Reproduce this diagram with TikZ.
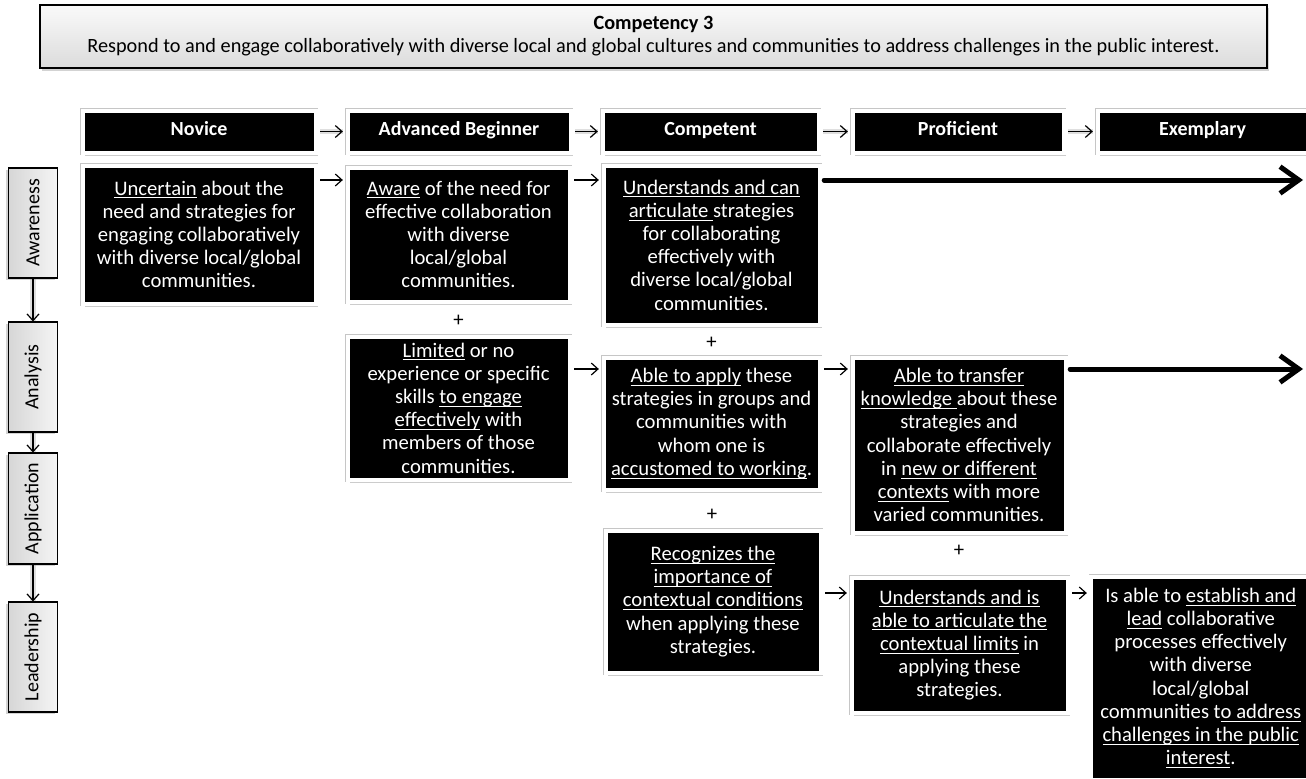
\documentclass[tikz,border=0pt]{standalone}
\usepackage{fontspec}
\setmainfont{Carlito}
\usetikzlibrary{arrows.meta,shadows}

\newlength\ulwd
\newcommand\uln[1]{\settowidth\ulwd{#1}\rlap{\rule[-2.4pt]{\ulwd}{0.7pt}}#1}

\tikzset{
  cell/.style 2 args={fill=black, text=white, draw=white, line width=3pt,
    preaction={draw=gray!45, line width=4pt},
    align=center, inner sep=0pt, minimum width=#1, minimum height=#2,
    drop shadow={opacity=0.4, shadow xshift=2pt, shadow yshift=-2.5pt}},
  head/.style={cell={#1}{31.5pt}, font=\bfseries\fontsize{15}{17}\selectfont,
    text height=1.55ex, text depth=0.35ex},
  stage/.style={draw=black, line width=0.8pt, left color=gray!32, right color=gray!8,
    rotate=90, minimum width=#1, minimum height=36.75pt, inner sep=0pt,
    font=\fontsize{15}{17}\selectfont,
    drop shadow={opacity=0.35, shadow xshift=-2pt, shadow yshift=-1.5pt}},
  flow/.style={-{Straight Barb[length=5pt,width=9pt]}, line width=0.9pt},
  glow/.style={flow, preaction={draw=gray, line width=4pt, opacity=0.25, -}},
  link/.style={flow, shorten <=2pt, shorten >=2pt},
  bigflow/.style={-{Straight Barb[length=14pt,width=20pt]}, line width=3.75pt,
    line cap=round, shorten <=2pt}
}

\begin{document}
\begin{tikzpicture}[x=0.75pt, y=-0.75pt, font=\fontsize{15.5}{17.4}\selectfont]
\useasboundingbox (0,0) rectangle (1306,778);

% Title
\node[draw=black, line width=0.8pt, top color=gray!4, bottom color=gray!28,
  minimum width=920.25pt, minimum height=47.25pt, align=center, inner sep=0pt,
  font=\fontsize{15.2}{17.25}\selectfont,
  drop shadow={opacity=0.35, shadow xshift=1.5pt, shadow yshift=-2pt}]
  (title) at (653.5,36.5)
  {\textbf{Competency 3}\\Respond to and engage collaboratively with diverse local and global cultures and communities to address challenges in the public interest.};

% Levels
\node[head={174.75pt}] (novice) at (199,131.5) {Novice};
\node[head={167.25pt}] (advbeg) at (459,131.5) {Advanced Beginner};
\node[head={162pt}] (competent) at (710.5,131.5) {Competent};
\node[head={158.25pt}] (proficient) at (958,131.5) {Proficient};
\node[head={157.5pt}] (exemplary) at (1202.5,131.5) {Exemplary};
\draw[glow, shorten <=2pt, shorten >=2pt] (novice) -- (advbeg);
\draw[glow, shorten <=2pt, shorten >=2pt] (advbeg) -- (competent);
\draw[glow, shorten <=2pt, shorten >=2pt] (competent) -- (proficient);
\draw[glow, shorten <=2pt, shorten >=2pt] (proficient) -- (exemplary);

% Stages
\node[stage=82.5pt] (awareness) at (33,223) {Awareness};
\node[stage=82.5pt] (analysis) at (33,377) {Analysis};
\node[stage=83.25pt] (application) at (33,508.5) {Application};
\node[stage=82.5pt] (leadership) at (33,657) {Leadership};
\draw[glow] (awareness) -- (analysis);
\draw[glow] (analysis) -- (application);
\draw[glow] (application) -- (leadership);

% Awareness row
\node[cell={174.75pt}{103.5pt}] (awNov) at (199,234.5)
  {\uln{Uncertain} about the\\need and strategies for\\engaging collaboratively\\with diverse local/global\\communities.};
\node[cell={166.5pt}{100.5pt}] (awAdv) at (458.5,234.5)
  {\uln{Aware} of the need for\\effective collaboration\\with diverse\\local/global\\communities.};
\node[cell={162pt}{119.25pt}] (awComp) at (711.5,245)
  {\uln{Understands and can}\\\uln{articulate }strategies\\for collaborating\\effectively with\\diverse local/global\\communities.};

% Analysis row
\node[cell={166.5pt}{107.25pt}] (anAdv) at (458.5,408)
  {\uln{Limited} or no\\experience or specific\\skills \uln{to engage}\\\uln{effectively} with\\members of those\\communities.};
\node[cell={162pt}{99pt}] (anComp) at (711.5,423.5)
  {\uln{Able to apply} these\\strategies in groups and\\communities with\\whom one is\\\uln{accustomed to working}.};
\node[cell={159.75pt}{131.25pt}] (anProf) at (959,445)
  {\uln{Able to transfer}\\\uln{knowledge }about these\\strategies and\\collaborate effectively\\in \uln{new or different}\\\uln{contexts} with more\\varied communities.};

% Application row
\node[cell={161.25pt}{106.5pt}] (apComp) at (713,601.5)
  {\uln{Recognizes the}\\\uln{importance of}\\\uln{contextual conditions}\\when applying these\\strategies.};
\node[cell={162pt}{101.25pt}] (apProf) at (959.5,645)
  {\uln{Understands and is}\\\uln{able to articulate the}\\\uln{contextual limits} in\\applying these\\strategies.};
\node[cell={163.9pt}{152.25pt}] (apExem) at (1200.75,678)
  {Is able to \uln{establish and}\\\uln{lead} collaborative\\processes effectively\\with diverse\\local/global\\communities t\uln{o address}\\\uln{challenges in the public}\\\uln{interest}.};

% Plus signs
\node (plus1) at (458.5,321) {+};
\node (plus2) at (711.5,343) {+};
\node (plus3) at (712,515) {+};
\node (plus4) at (959,551) {+};

% Progress arrows
\coordinate (lane1) at (1303,180);
\coordinate (lane2) at (1303,369);
\coordinate (lane3) at (1303,593);
\draw[link] (awNov.east |- lane1) -- (awAdv.west |- lane1);
\draw[link] (awAdv.east |- lane1) -- (awComp.west |- lane1);
\draw[bigflow] (awComp.east |- lane1) -- (lane1);
\draw[link] (anAdv.east |- lane2) -- (anComp.west |- lane2);
\draw[link] (anComp.east |- lane2) -- (anProf.west |- lane2);
\draw[bigflow] (anProf.east |- lane2) -- (lane2);
\draw[link] (apComp.east |- lane3) -- (apProf.west |- lane3);
\draw[link] (apProf.east |- lane3) -- (apExem.west |- lane3);

\end{tikzpicture}
\end{document}
